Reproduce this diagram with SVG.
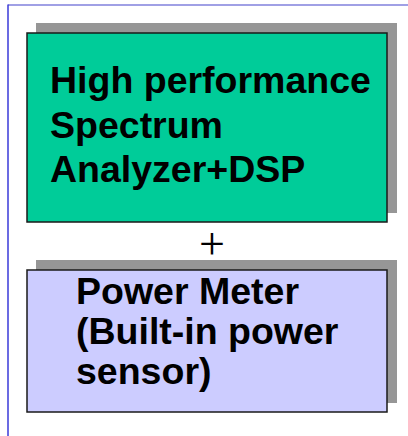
<svg xmlns="http://www.w3.org/2000/svg" width="408" height="436" viewBox="0 0 408 436">
<style>
.shadow{fill:#969696}
.box{stroke:#1a1a1a;stroke-width:1.5}
.t{font-family:"Liberation Sans",Arial,sans-serif;font-weight:bold;font-size:37.5px;fill:#000}
</style>
<rect width="408" height="436" fill="#fff"/>
<g id="frame">
<line x1="8" y1="5" x2="408" y2="5" stroke="#8080dd" stroke-width="1.5"/>
<line x1="8" y1="4.5" x2="8" y2="436" stroke="#3a3ad8" stroke-width="1.5"/>
</g>
<g id="node-spectrum">
<rect class="shadow" x="36" y="23" width="361" height="190"/>
<rect class="box" x="27" y="33" width="360" height="189" fill="#00cc99"/>
<text class="t" x="50" y="93">High performance</text>
<text class="t" x="50" y="137.5">Spectrum</text>
<text class="t" x="50" y="182">Analyzer+DSP</text>
</g>
<g id="connectors">
<text x="212" y="258.5" text-anchor="middle" font-family="Liberation Serif,serif" font-size="46" fill="#000">+</text>
</g>
<g id="node-power">
<rect class="shadow" x="36" y="260" width="361" height="143"/>
<rect class="box" x="27" y="270" width="360" height="142" fill="#ccccff"/>
<text class="t" x="76" y="304">Power Meter</text>
<text class="t" x="76" y="344">(Built-in power</text>
<text class="t" x="76" y="384">sensor)</text>
</g>
</svg>
